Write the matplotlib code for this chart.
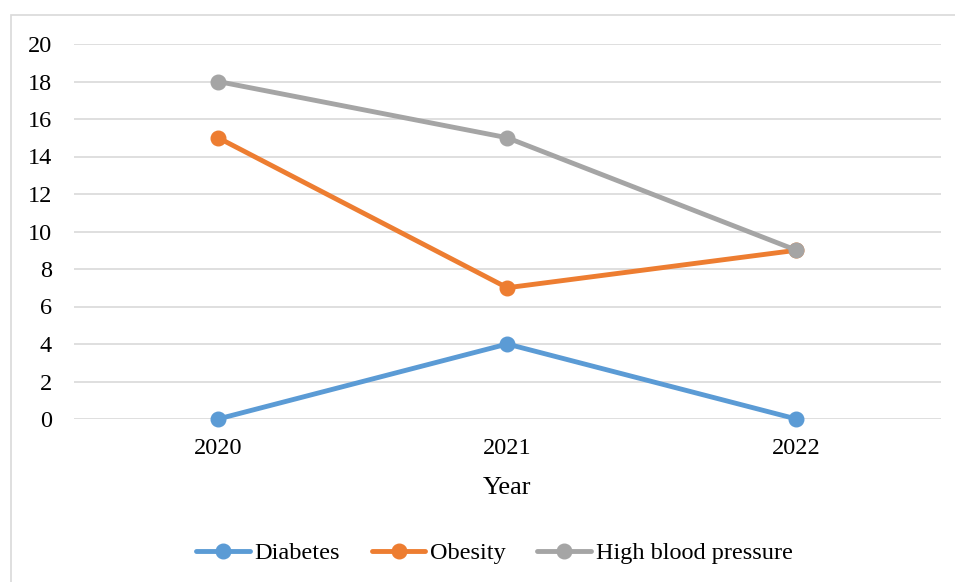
import matplotlib
matplotlib.use("Agg")
import matplotlib.pyplot as plt
from matplotlib.patches import Rectangle

years = ["2020", "2021", "2022"]
diabetes = [0, 4, 0]
obesity = [15, 7, 9]
high_bp = [18, 15, 9]
series_names = ["Diabetes", "Obesity", "High blood pressure"]
colors = ["#5B9BD5", "#ED7D31", "#A5A5A5"]

plt.rcParams["font.family"] = ["Liberation Serif", "DejaVu Serif"]

W, H = 955, 582
fig = plt.figure(figsize=(W / 100, H / 100), dpi=100)

left, right, top, bottom = 73.5, 941, 44, 419
ax = fig.add_axes([left / W, 1 - bottom / H, (right - left) / W, (bottom - top) / H])

x = range(len(years))
for vals, name, c in zip([diabetes, obesity, high_bp], series_names, colors):
    ax.plot(x, vals, color=c, lw=3.5, marker="o", markersize=10.5,
            label=name, solid_capstyle="round", zorder=3, clip_on=False)

ax.set_xlim(-0.5, len(years) - 0.5)
ax.set_ylim(0, 20)
ax.set_yticks(range(0, 21, 2))
ax.set_xticks(list(x))
ax.set_xticklabels(years)
ax.tick_params(axis="both", length=0, labelsize=17.5)
ax.tick_params(axis="x", pad=14)
ax.tick_params(axis="y", pad=15.5)
ax.grid(axis="y", color="#D9D9D9", lw=1.2)
ax.set_axisbelow(True)
for s in ax.spines.values():
    s.set_visible(False)

fig.text(507 / W, 1 - 488 / H, "Year", ha="center", va="center", fontsize=19)

handles, labels = ax.get_legend_handles_labels()
fig.legend(handles, labels, loc="center", bbox_to_anchor=(494.5 / W, 1 - 553 / H),
           ncol=3, frameon=False, fontsize=17.5, handlelength=2.2,
           columnspacing=1.3, handletextpad=0.2)

# outer chart frame
fig.patches.append(Rectangle((10.5 / W, -0.1), 1.2, 1 - 14.5 / H + 0.1,
                             transform=fig.transFigure, fill=False,
                             edgecolor="#D9D9D9", lw=1.2, clip_on=False))

fig.savefig("out.png", dpi=100)
